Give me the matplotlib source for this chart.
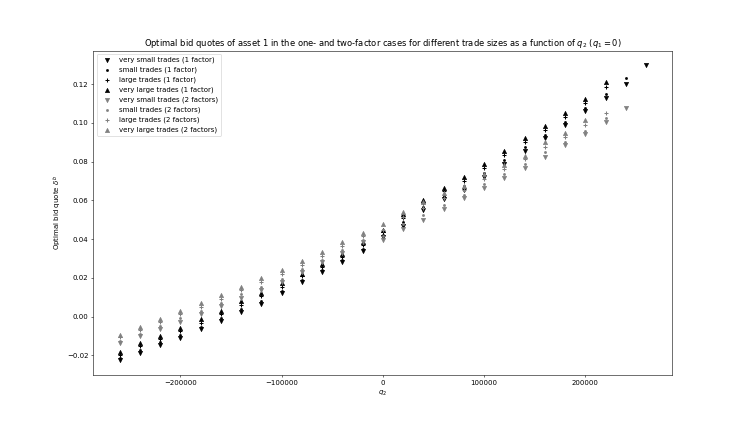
import matplotlib
matplotlib.use("Agg")
import matplotlib.pyplot as plt

# q2 grid, -260000 .. 260000 step 20000
q2 = [-260000, -240000, -220000, -200000, -180000, -160000, -140000, -120000, -100000,
      -80000, -60000, -40000, -20000, 0, 20000, 40000, 60000, 80000, 100000, 120000,
      140000, 160000, 180000, 200000, 220000, 240000, 260000]

# one factor
vs_1f = [-0.0223, -0.0185, -0.0144, -0.0109, -0.0065, -0.0021, 0.0023, 0.0067, 0.0120,
         0.0181, 0.0229, 0.0281, 0.0339, 0.0410, 0.0470, 0.0550, 0.0610, 0.0656, 0.0721,
         0.0788, 0.0858, 0.0923, 0.0990, 0.1061, 0.1128, 0.1202, 0.1298]
s_1f = [-0.0211, -0.0171, -0.0131, -0.0094, -0.0051, -0.0006, 0.0039, 0.0083, 0.0135,
        0.0192, 0.0240, 0.0293, 0.0352, 0.0421, 0.0487, 0.0565, 0.0625, 0.0674, 0.0740,
        0.0807, 0.0875, 0.0940, 0.1007, 0.1079, 0.1152, 0.1233]
l_1f = [-0.0195, -0.0152, -0.0113, -0.0073, -0.0031, 0.0015, 0.0061, 0.0105, 0.0156,
        0.0208, 0.0256, 0.0310, 0.0370, 0.0437, 0.0510, 0.0585, 0.0647, 0.0700, 0.0766,
        0.0833, 0.0900, 0.0964, 0.1032, 0.1105, 0.1184]
vl_1f = [-0.0181, -0.0135, -0.0097, -0.0056, -0.0014, 0.0032, 0.0079, 0.0123, 0.0173,
         0.0222, 0.0270, 0.0325, 0.0385, 0.0450, 0.0530, 0.0603, 0.0665, 0.0721, 0.0788,
         0.0855, 0.0920, 0.0985, 0.1052, 0.1126, 0.1210]

# two factors
vs_2f = [-0.0135, -0.0100, -0.0062, -0.0025, 0.0014, 0.0058, 0.0099, 0.0137, 0.0178,
         0.0230, 0.0280, 0.0330, 0.0385, 0.0396, 0.0454, 0.0501, 0.0554, 0.0612, 0.0665,
         0.0718, 0.0770, 0.0827, 0.0885, 0.0941, 0.1003, 0.1075]
s_2f = [-0.0123, -0.0087, -0.0048, -0.0009, 0.0030, 0.0073, 0.0115, 0.0154, 0.0196,
        0.0246, 0.0295, 0.0345, 0.0398, 0.0419, 0.0479, 0.0526, 0.0578, 0.0629, 0.0685,
        0.0737, 0.0787, 0.0848, 0.0903, 0.0961, 0.1025]
l_2f = [-0.0107, -0.0069, -0.0029, 0.0013, 0.0052, 0.0093, 0.0137, 0.0179, 0.0222,
        0.0268, 0.0316, 0.0366, 0.0417, 0.0450, 0.0513, 0.0561, 0.0612, 0.0654, 0.0712,
        0.0763, 0.0812, 0.0877, 0.0929, 0.0989, 0.1052]
vl_2f = [-0.0093, -0.0053, -0.0012, 0.0032, 0.0071, 0.0111, 0.0155, 0.0199, 0.0243,
         0.0287, 0.0334, 0.0384, 0.0433, 0.0477, 0.0542, 0.0590, 0.0640, 0.0674, 0.0735,
         0.0785, 0.0832, 0.0902, 0.0950, 0.1013]

series = [
    (vs_1f, 'v', 'black', 'very small trades (1 factor)'),
    (s_1f, '.', 'black', 'small trades (1 factor)'),
    (l_1f, '+', 'black', 'large trades (1 factor)'),
    (vl_1f, '^', 'black', 'very large trades (1 factor)'),
    (vs_2f, 'v', 'grey', 'very small trades (2 factors)'),
    (s_2f, '.', 'grey', 'small trades (2 factors)'),
    (l_2f, '+', 'grey', 'large trades (2 factors)'),
    (vl_2f, '^', 'grey', 'very large trades (2 factors)'),
]

fig = plt.figure(figsize=(14.94, 8.42), dpi=50)
for vals, m, c, lab in series:
    plt.scatter(q2[:len(vals)], vals, marker=m, color=c, label=lab)

plt.title("Optimal bid quotes of asset 1 in the one- and two-factor cases for different "
          "trade sizes as a function of $q_2$ ($q_1 = 0$)")
plt.xlabel("$q_2$")
plt.ylabel("Optimal bid quote $\\delta^b$")
plt.legend(loc='upper left')
plt.savefig("out.png", dpi=50)
